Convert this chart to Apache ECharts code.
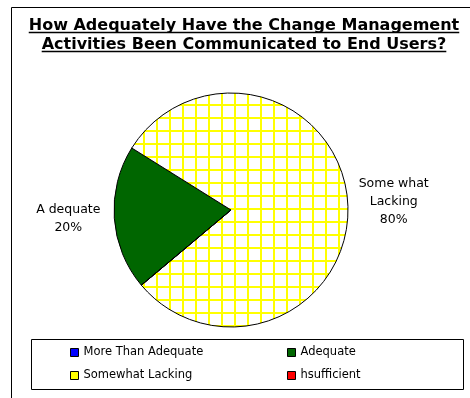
<!DOCTYPE html>
<html>
<head>
<meta charset="utf-8">
<script src="https://cdn.jsdelivr.net/npm/echarts@6/dist/echarts.min.js"></script>
<style>
  html, body { margin: 0; padding: 0; background: #fff; }
  #main { width: 470px; height: 398px; }
</style>
</head>
<body>
<div id="main"></div>
<script>
// data
var categories = ['More Than Adequate', 'Adequate', 'Somewhat Lacking', 'Insufficient'];
var legendNames = ['More Than Adequate', 'Adequate', 'Somewhat Lacking', 'hsufficient'];
var sliceLabels = ['', 'A dequate', 'Some what\nLacking', ''];
var values = [0, 20, 80, 0];
var titleLines = ['How Adequately Have the Change Management', 'Activities Been Communicated to End Users?'];

var chart = echarts.init(document.getElementById('main'));

// yellow grid hatch for the big slice
var pat = document.createElement('canvas');
pat.width = 13; pat.height = 13;
var ctx = pat.getContext('2d');
ctx.fillStyle = '#ffffff';
ctx.fillRect(0, 0, 13, 13);
ctx.fillStyle = '#ffff00';
ctx.fillRect(0, 0, 2, 13);
ctx.fillRect(0, 0, 13, 2);

var colors = ['#0000ff', '#006600', { image: pat, repeat: 'repeat' }, '#ff0000'];
var iconColors = ['#0000ff', '#006600', '#ffff00', '#ff0000'];

var titleX = 244, titleTop = 16, titleLH = 19, titleSize = 16;
var titleFont = 'bold ' + titleSize + 'px "DejaVu Sans"';
var underlines = titleLines.map(function (t, i) {
    var w = new echarts.graphic.Text({ style: { text: t, font: titleFont } }).getBoundingRect().width;
    var y = titleTop + titleLH / 2 + titleLH * i + 7;
    return {
        type: 'line',
        shape: { x1: titleX - w / 2, y1: y, x2: titleX + w / 2, y2: y },
        style: { stroke: '#000', lineWidth: 1.3 }
    };
});

var pieData = categories.map(function (c, i) {
    return {
        name: legendNames[i],
        value: values[i],
        itemStyle: { color: colors[i] },
        label: { show: values[i] > 0 }
    };
});

var legendItem = function (i) {
    return { name: legendNames[i], itemStyle: { color: iconColors[i], borderColor: '#000', borderWidth: 1 } };
};
var legendText = { fontFamily: 'DejaVu Sans', fontSize: 11.5, lineHeight: 13, color: '#000' };

var option = {
    animation: false,
    title: {
        text: titleLines.join('\n'),
        left: titleX,
        top: titleTop,
        padding: 0,
        textAlign: 'center',
        textStyle: { fontFamily: 'DejaVu Sans', fontWeight: 'bold', fontSize: titleSize, lineHeight: titleLH, color: '#000' }
    },
    legend: [{
        orient: 'vertical',
        left: 65, top: 341,
        itemWidth: 8, itemHeight: 8, itemGap: 10,
        icon: 'rect',
        textStyle: legendText,
        data: [legendItem(0), legendItem(2)]
    }, {
        orient: 'vertical',
        left: 282, top: 341,
        itemWidth: 8, itemHeight: 8, itemGap: 10,
        icon: 'rect',
        textStyle: legendText,
        data: [legendItem(1), legendItem(3)]
    }],
    graphic: [{
        type: 'rect',
        shape: { x: 11.5, y: 7.5, width: 470, height: 400 },
        style: { fill: null, stroke: '#000', lineWidth: 1 }
    }, {
        type: 'rect',
        shape: { x: 31.5, y: 339.5, width: 432, height: 50 },
        style: { fill: null, stroke: '#000', lineWidth: 1 }
    }].concat(underlines),
    series: [{
        type: 'pie',
        center: [231, 210],
        radius: 117,
        startAngle: 220,
        clockwise: true,
        avoidLabelOverlap: false,
        legendHoverLink: false,
        itemStyle: { borderColor: '#000', borderWidth: 1 },
        label: {
            position: 'outside',
            color: '#000',
            formatter: function (p) {
                var lines = sliceLabels[p.dataIndex].split('\n');
                lines.push(p.value + '%');
                return lines.map(function (l) { return '{a|' + l + '}'; }).join('\n');
            },
            rich: { a: { width: 74, align: 'center', fontFamily: 'DejaVu Sans', fontSize: 12.5, lineHeight: 18, color: '#000' } }
        },
        labelLine: { show: false, length: 4, length2: 0 },
        data: pieData
    }]
};

chart.setOption(option);
</script>
</body>
</html>
